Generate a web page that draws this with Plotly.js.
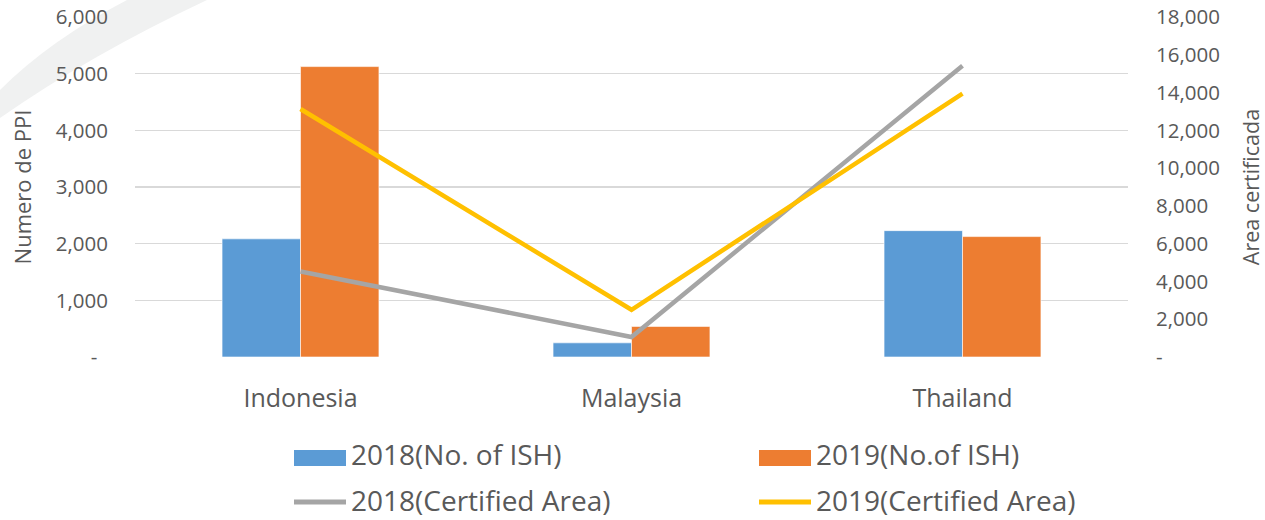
<!DOCTYPE html>
<html>
<head>
<meta charset="utf-8">
<script src="https://cdn.plot.ly/plotly-3.0.1.min.js"></script>
<style>html,body{margin:0;padding:0;background:#fff;}#chart{width:1265px;height:520px;}</style>
</head>
<body>
<div id="chart"></div>
<script>
// ---- data ----
const countries = ["Indonesia", "Malaysia", "Thailand"];
const ish2018 = [2085, 250, 2230];
const ish2019 = [5125, 540, 2125];
const area2018 = [4530, 1060, 15420];
const area2019 = [13130, 2500, 13940];
const seriesNames = ["2018(No. of ISH)", "2019(No.of ISH)", "2018(Certified Area)", "2019(Certified Area)"];
const leftTickVals = [0, 1000, 2000, 3000, 4000, 5000, 6000];
const leftTickText = ["-\u00a0\u00a0", "1,000", "2,000", "3,000", "4,000", "5,000", "6,000"];
const rightTickVals = [0, 2000, 4000, 6000, 8000, 10000, 12000, 14000, 16000, 18000];
const rightTickText = ["-", "2,000", "4,000", "6,000", "8,000", "10,000", "12,000", "14,000", "16,000", "18,000"];

const FONT = "'Open Sans', 'Liberation Sans', sans-serif";
const TXT = "#595959";
const COLORS = ["#5B9BD5", "#ED7D31", "#A5A5A5", "#FFC000"];

const traces = [
  {type: "bar", name: seriesNames[0], x: countries, y: ish2018, yaxis: "y",
   marker: {color: COLORS[0], line: {color: "#ffffff", width: 0.6}}},
  {type: "bar", name: seriesNames[1], x: countries, y: ish2019, yaxis: "y",
   marker: {color: COLORS[1], line: {color: "#ffffff", width: 0.6}}},
  {type: "scatter", mode: "lines", name: seriesNames[2], x: countries, y: area2018, yaxis: "y2",
   line: {color: COLORS[2], width: 4.5}},
  {type: "scatter", mode: "lines", name: seriesNames[3], x: countries, y: area2019, yaxis: "y2",
   line: {color: COLORS[3], width: 4.5}}
];

// ---- geometry (plot area in pixels) ----
const W = 1265, H = 520;
const M = {l: 135, r: 137, t: 17, b: 163};
const PW = W - M.l - M.r, PH = H - M.t - M.b;
const px = x => (x - M.l) / PW;        // pixel -> paper x
const py = y => (M.t + PH - y) / PH;   // pixel -> paper y

// ---- custom legend (2 columns x 2 rows) ----
const legCols = [294, 759];
const legSwatchRows = [458, 502];
const legTextRows = [454, 500];
const shapes = [];
const annotations = [];
traces.forEach((t, i) => {
  const col = i % 2, row = Math.floor(i / 2);
  const x0 = legCols[col], yc = legSwatchRows[row];
  if (t.type === "bar") {
    shapes.push({type: "rect", xref: "paper", yref: "paper",
      x0: px(x0), x1: px(x0 + 52), y0: py(yc - 8), y1: py(yc + 8),
      fillcolor: t.marker.color, line: {width: 0}});
  } else {
    shapes.push({type: "line", xref: "paper", yref: "paper",
      x0: px(x0), x1: px(x0 + 52), y0: py(yc), y1: py(yc),
      line: {color: t.line.color, width: 5}});
  }
  annotations.push({xref: "paper", yref: "paper", x: px(x0 + 55), y: py(legTextRows[row]),
    xanchor: "left", yanchor: "middle", showarrow: false, text: t.name,
    font: {family: FONT, size: 28, color: TXT}});
});

// faint background watermark band
shapes.push({type: "path", xref: "paper", yref: "paper", layer: "below",
  path: `M${px(0)},${py(90)} Q${px(50)},${py(40)} ${px(127)},${py(0)} L${px(207)},${py(0)} Q${px(90)},${py(55)} ${px(0)},${py(118)} Z`,
  fillcolor: "#F0F1F1", line: {width: 0}});

const layout = {
  width: W, height: H,
  margin: M,
  paper_bgcolor: "#ffffff", plot_bgcolor: "rgba(0,0,0,0)",
  font: {family: FONT, color: TXT, size: 20},
  barmode: "group", bargap: 0.526, bargroupgap: 0,
  showlegend: false,
  xaxis: {
    type: "category", showgrid: false, zeroline: false, showline: false, ticks: "",
    tickfont: {family: FONT, size: 25, color: TXT}, ticklabelstandoff: 24, automargin: false
  },
  yaxis: {
    range: [0, 6000], tickvals: leftTickVals, ticktext: leftTickText,
    showgrid: true, gridcolor: "#D9D9D9", gridwidth: 1.5, zeroline: false, showline: false, ticks: "",
    tickfont: {family: FONT, size: 20.5, color: TXT}, ticklabelstandoff: 26, automargin: false,
    title: {text: "Numero de PPI", font: {family: FONT, size: 22, color: TXT}, standoff: 18}
  },
  yaxis2: {
    range: [0, 18000], tickvals: rightTickVals, ticktext: rightTickText,
    overlaying: "y", side: "right", showgrid: false, zeroline: false, showline: false, ticks: "",
    tickfont: {family: FONT, size: 20.5, color: TXT}, ticklabelstandoff: 27, automargin: false,
    title: {text: "Area certificada", font: {family: FONT, size: 21.5, color: TXT}, standoff: 26}
  },
  shapes: shapes,
  annotations: annotations
};

Plotly.newPlot("chart", traces, layout, {displayModeBar: false, staticPlot: true});
</script>
</body>
</html>
